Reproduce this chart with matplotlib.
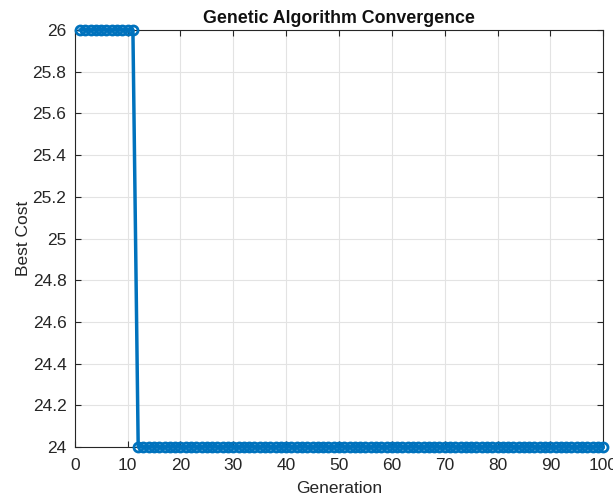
import numpy as np
import matplotlib
matplotlib.use("Agg")
import matplotlib.pyplot as plt

plt.rcParams['font.family'] = ['Liberation Sans', 'DejaVu Sans']

generations = list(range(1, 101))
best_cost = [26] * 11 + [24] * 89

fig = plt.figure(figsize=(6.13, 4.97), dpi=100)
ax = fig.add_axes([0.122, 0.1006, 0.862, 0.839])
ax.plot(generations, best_cost, color='#0072BD', linewidth=2.5, marker='o',
        markersize=6.5, markerfacecolor='none', markeredgewidth=2.0, clip_on=False, zorder=3)
ax.set_xlim(0, 100)
ax.set_ylim(24, 26)
ax.set_xticks(np.arange(0, 101, 10))
ax.set_yticks(np.arange(24, 26.01, 0.2))
ax.set_yticklabels(['24', '24.2', '24.4', '24.6', '24.8', '25', '25.2', '25.4', '25.6', '25.8', '26'])
ax.grid(True, color='#e3e3e3', linewidth=0.8)
ax.set_axisbelow(True)
ax.tick_params(direction='in', labelsize=12.5, colors='#262626', length=4, top=True, right=True,
               labeltop=False, labelright=False)
ax.tick_params(axis='x', pad=8)
ax.tick_params(axis='y', pad=6)
for s in ax.spines.values():
    s.set_color('#262626')
    s.set_linewidth(0.8)
ax.set_xlabel('Generation', fontsize=12.5, color='#262626', labelpad=6)
ax.set_ylabel('Best Cost', fontsize=12.5, color='#262626', labelpad=1)
ax.set_title('Genetic Algorithm Convergence', fontsize=12.8, fontweight='bold', color='#111111', pad=5)
fig.savefig('out.png', dpi=100)
